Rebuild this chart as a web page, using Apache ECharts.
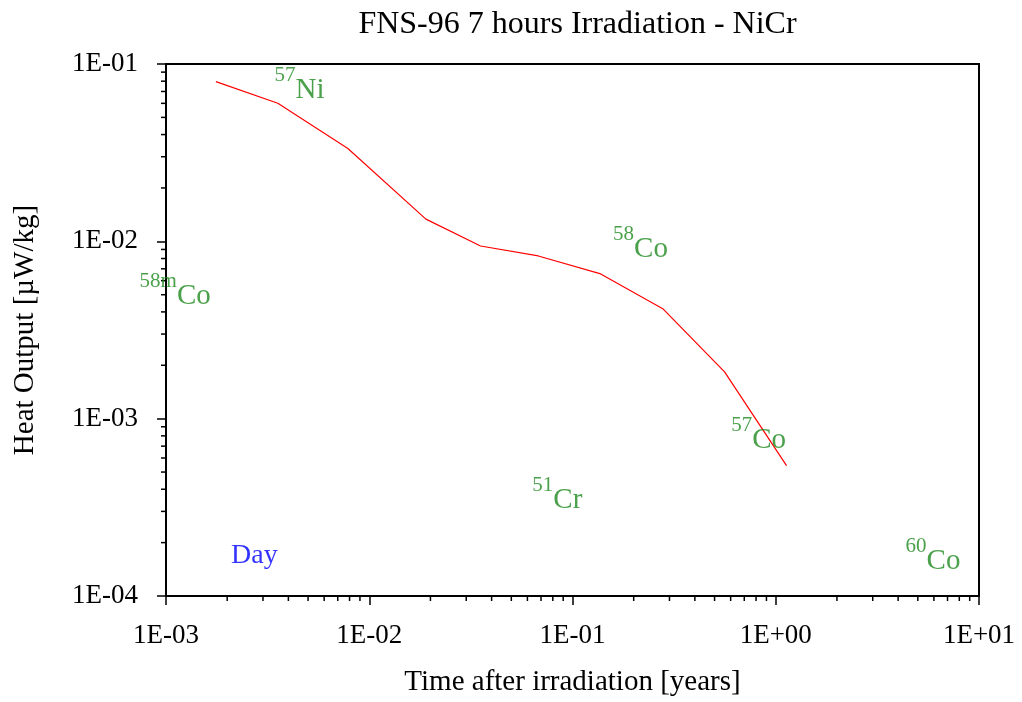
<!DOCTYPE html>
<html>
<head>
<meta charset="utf-8">
<script src="https://cdn.jsdelivr.net/npm/echarts@6/dist/echarts.min.js"></script>
<style>html,body{margin:0;padding:0;background:#fff}#c{width:1022px;height:702px}</style>
</head>
<body>
<div id="c"></div>
<script>
// ---- data ----
const years = [0.00176, 0.00355, 0.00785, 0.0190, 0.0353, 0.0679, 0.1377, 0.278, 0.560, 1.13];
const heat  = [0.0796, 0.0601, 0.0334, 0.01334, 0.00941, 0.00827, 0.00655, 0.00417, 0.001837, 0.000544];

const isoMass = ['57', '58', '58m', '57', '51', '60'];
const isoElem = ['Ni', 'Co', 'Co', 'Co', 'Cr', 'Co'];
const isoX    = [0.00454, 0.216, 0.00111, 0.824, 0.0842, 5.94];
const isoY    = [0.0765, 0.00966, 0.00526, 0.000805, 0.000371, 0.000168];

const dayX = [0.00272];
const dayY = [0.000168];
const dayText = ['Day'];

const xMin = 0.001, xMax = 10, yMin = 0.0001, yMax = 0.1;
const minorMults = [2, 3, 4, 5, 6, 7, 8, 9];

const FONT = '"Liberation Serif", "DejaVu Serif", serif';

function minorTicks(lo, hi) {
  const out = [];
  for (let d = lo; d < hi * 0.999; d *= 10) {
    for (const m of minorMults) out.push(d * m);
  }
  return out;
}
const xMinor = minorTicks(xMin, xMax);
const yMinor = minorTicks(yMin, yMax);

function fmt(v) {
  const e = Math.round(Math.log10(v));
  const s = e < 0 ? '-' : '+';
  const a = Math.abs(e);
  return '1E' + s + (a < 10 ? '0' : '') + a;
}

const chart = echarts.init(document.getElementById('c'), null, {renderer: 'canvas'});

const GRID = {left: 166, right: 43, top: 64, bottom: 102};

const option = {
  backgroundColor: '#fff',
  animation: false,
  title: {
    text: 'FNS-96 7 hours Irradiation - NiCr',
    left: GRID.left + (1022 - GRID.left - GRID.right) / 2,
    textAlign: 'center',
    top: 4,
    textStyle: {fontFamily: FONT, fontSize: 32, fontWeight: 'normal', color: '#000'}
  },
  grid: {
    left: GRID.left, right: GRID.right, top: GRID.top, bottom: GRID.bottom,
    show: true, borderColor: '#000', borderWidth: 2, backgroundColor: 'transparent'
  },
  xAxis: {
    type: 'log', logBase: 10, min: xMin, max: xMax,
    name: 'Time after irradiation [years]',
    nameLocation: 'middle', nameGap: 72,
    nameTextStyle: {fontFamily: FONT, fontSize: 29, color: '#000'},
    axisLine: {show: true, lineStyle: {color: '#000', width: 2}},
    axisTick: {show: true, inside: false, length: 9, lineStyle: {color: '#000', width: 1.5}},
    axisLabel: {margin: 26, fontFamily: FONT, fontSize: 27, color: '#000', formatter: fmt},
    splitLine: {show: false},
    minorTick: {show: false}
  },
  yAxis: {
    type: 'log', logBase: 10, min: yMin, max: yMax,
    name: 'Heat Output [\u00b5W/kg]',
    nameLocation: 'middle', nameGap: 126, nameRotate: 90,
    nameTextStyle: {fontFamily: FONT, fontSize: 29, color: '#000'},
    axisLine: {show: true, lineStyle: {color: '#000', width: 2}},
    axisTick: {show: true, inside: false, length: 9, lineStyle: {color: '#000', width: 1.5}},
    axisLabel: {margin: 28, fontFamily: FONT, fontSize: 27, color: '#000', formatter: fmt},
    splitLine: {show: false},
    minorTick: {show: false}
  },
  series: [
    {
      type: 'line',
      data: years.map((x, i) => [x, heat[i]]),
      showSymbol: false,
      symbol: 'none',
      lineStyle: {color: '#ff0000', width: 1.2},
      z: 3
    },
    {
      type: 'custom',
      clip: false,
      silent: true,
      data: xMinor.map(v => [v]),
      renderItem: function (params, api) {
        const p = api.coord([api.value(0), yMin]);
        return {type: 'line', shape: {x1: p[0], y1: p[1], x2: p[0], y2: p[1] + 5},
                style: {stroke: '#000', lineWidth: 1.5}};
      },
      z: 4
    },
    {
      type: 'custom',
      clip: false,
      silent: true,
      data: yMinor.map(v => [v]),
      renderItem: function (params, api) {
        const p = api.coord([xMin, api.value(0)]);
        return {type: 'line', shape: {x1: p[0], y1: p[1], x2: p[0] - 5, y2: p[1]},
                style: {stroke: '#000', lineWidth: 1.5}};
      },
      encode: {x: -1, y: 0},
      z: 4
    },
    {
      type: 'scatter',
      symbolSize: 0,
      silent: true,
      data: isoX.map((x, i) => ({value: [x, isoY[i]], name: isoMass[i] + '|' + isoElem[i]})),
      label: {
        show: true,
        position: 'inside',
        formatter: function (p) {
          const parts = p.name.split('|');
          return '{sup|' + parts[0] + '}{base|' + parts[1] + '}';
        },
        rich: {
          sup: {fontFamily: FONT, fontSize: 21, color: '#1e8a1e', verticalAlign: 'top', lineHeight: 40},
          base: {fontFamily: FONT, fontSize: 29, color: '#1e8a1e', verticalAlign: 'bottom', lineHeight: 40}
        }
      },
      z: 5
    },
    {
      type: 'scatter',
      symbolSize: 0,
      silent: true,
      data: dayX.map((x, i) => ({value: [x, dayY[i]], name: dayText[i]})),
      label: {
        show: true, position: 'inside', formatter: '{b}',
        fontFamily: FONT, fontSize: 28, color: '#0000ff'
      },
      z: 5
    }
  ]
};
chart.setOption(option);
</script>
</body>
</html>
